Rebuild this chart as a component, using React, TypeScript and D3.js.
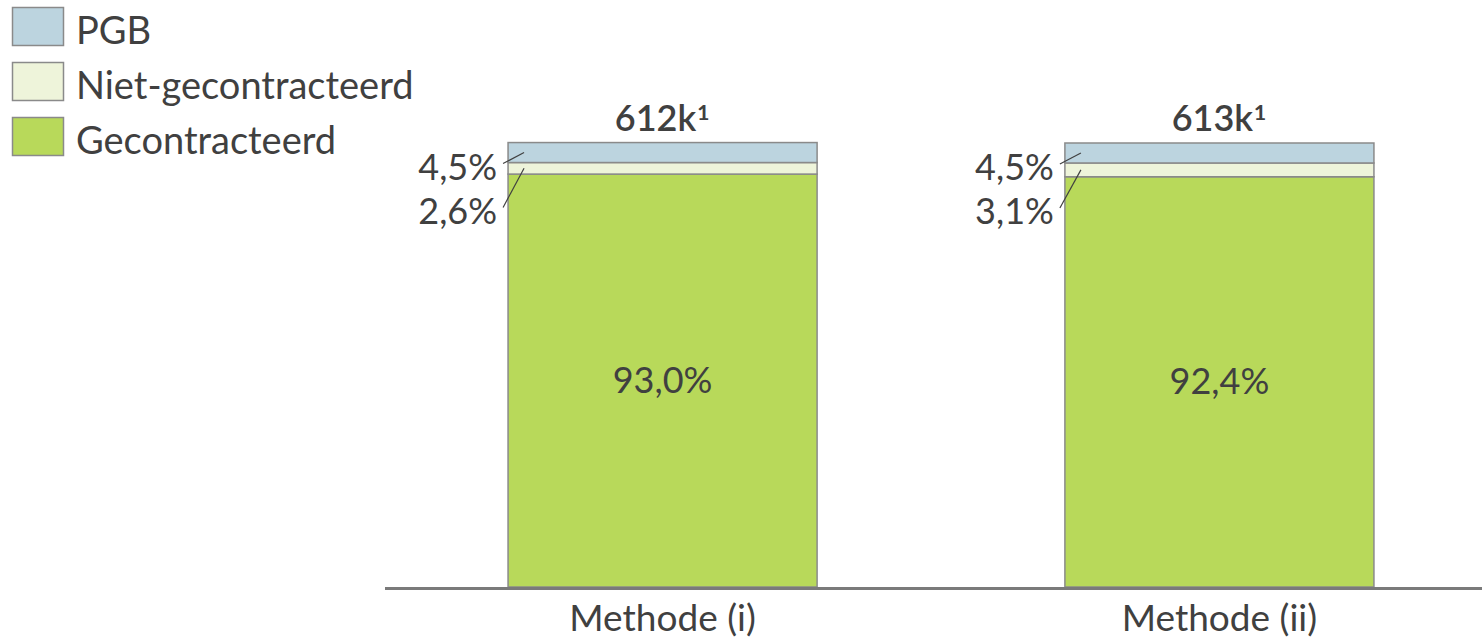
import React from "react";
import * as d3 from "d3";

const categories = ["Methode (i)", "Methode (ii)"];
const totals = ["612k", "613k"];
const footnote = "¹";
const series = ["Gecontracteerd", "Niet-gecontracteerd", "PGB"];
const gecontracteerd = [93.0, 92.4];
const nietGecontracteerd = [2.6, 3.1];
const pgb = [4.5, 4.5];
const legendOrder = ["PGB", "Niet-gecontracteerd", "Gecontracteerd"];
const colors: Record<string, string> = {
  PGB: "#bcd4df",
  "Niet-gecontracteerd": "#eef4da",
  Gecontracteerd: "#b8d95a",
};

const W = 1482;
const H = 641;
const FONT = "Lato, 'Open Sans', sans-serif";
const TXT = "#404040";
const FS = 36;

const fmt = (v: number) => v.toFixed(1).replace(".", ",") + "%";

export default function App() {
  const x = d3
    .scaleBand<string>()
    .domain(categories)
    .range([385, 1497])
    .paddingInner(0.445)
    .paddingOuter(0.221);
  const y = d3.scaleLinear().domain([0, 100]).range([587, 143]);

  const rows = categories.map((c, i) => ({
    cat: c,
    Gecontracteerd: gecontracteerd[i],
    "Niet-gecontracteerd": nietGecontracteerd[i],
    PGB: pgb[i],
  }));
  const stacked = d3.stack<any>().keys(series)(rows);

  return (
    <svg width={W} height={H} style={{ position: "absolute", left: 0, top: 0 }}>
      {/* legend */}
      {legendOrder.map((s, i) => (
        <g key={s}>
          <rect
            x={12.5}
            y={7.5 + i * 55}
            width={51}
            height={38}
            fill={colors[s]}
            stroke="#8a8a8a"
            strokeWidth={1.5}
          />
          <text x={76} y={44 + i * 55} fontFamily={FONT} fontSize={38} fill={TXT}>
            {s}
          </text>
        </g>
      ))}

      {/* bars */}
      {stacked.map((layer) => (
        <g key={layer.key}>
          {layer.map((d, i) => (
            <rect
              key={i}
              x={x(categories[i])!}
              y={y(d[1])}
              width={x.bandwidth()}
              height={y(d[0]) - y(d[1])}
              fill={colors[layer.key]}
              stroke="#8a8a8a"
              strokeWidth={1.5}
            />
          ))}
        </g>
      ))}

      {/* in-bar labels and totals */}
      {categories.map((c, i) => {
        const bx = x(c)!;
        const cx = bx + x.bandwidth() / 2;
        const gTop = gecontracteerd[i];
        const nTop = gTop + nietGecontracteerd[i];
        const pTop = nTop + pgb[i];
        return (
          <g key={c}>
            <text
              x={cx}
              y={(y(0) + y(gTop)) / 2 + 12}
              textAnchor="middle"
              fontFamily={FONT}
              fontSize={FS}
              fill={TXT}
            >
              {fmt(gecontracteerd[i])}
            </text>
            <text
              x={cx}
              y={y(pTop) - 12}
              textAnchor="middle"
              fontFamily={FONT}
              fontSize={FS}
              fontWeight={600}
              fill={TXT}
            >
              {totals[i]}
              <tspan fontSize={42} fontWeight={400} dy={8}>
                {footnote}
              </tspan>
            </text>
            <text x={bx - 11} y={y(pTop) + 37} textAnchor="end" fontFamily={FONT} fontSize={FS} fill={TXT}>
              {fmt(pgb[i])}
            </text>
            <text x={bx - 11} y={y(pTop) + 81} textAnchor="end" fontFamily={FONT} fontSize={FS} fill={TXT}>
              {fmt(nietGecontracteerd[i])}
            </text>
            <line
              x1={bx - 5}
              y1={y(pTop) + 21}
              x2={bx + 16}
              y2={(y(nTop) + y(pTop)) / 2}
              stroke={TXT}
              strokeWidth={1.2}
            />
            <line
              x1={bx - 5}
              y1={y(pTop) + 65}
              x2={bx + 16}
              y2={(y(gTop) + y(nTop)) / 2}
              stroke={TXT}
              strokeWidth={1.2}
            />
            <text x={cx} y={631} textAnchor="middle" fontFamily={FONT} fontSize={37} fill={TXT}>
              {c}
            </text>
          </g>
        );
      })}

      {/* axis baseline */}
      <line x1={385} x2={W} y1={y(0) + 1.5} y2={y(0) + 1.5} stroke="#7a7a7a" strokeWidth={3} />
    </svg>
  );
}
